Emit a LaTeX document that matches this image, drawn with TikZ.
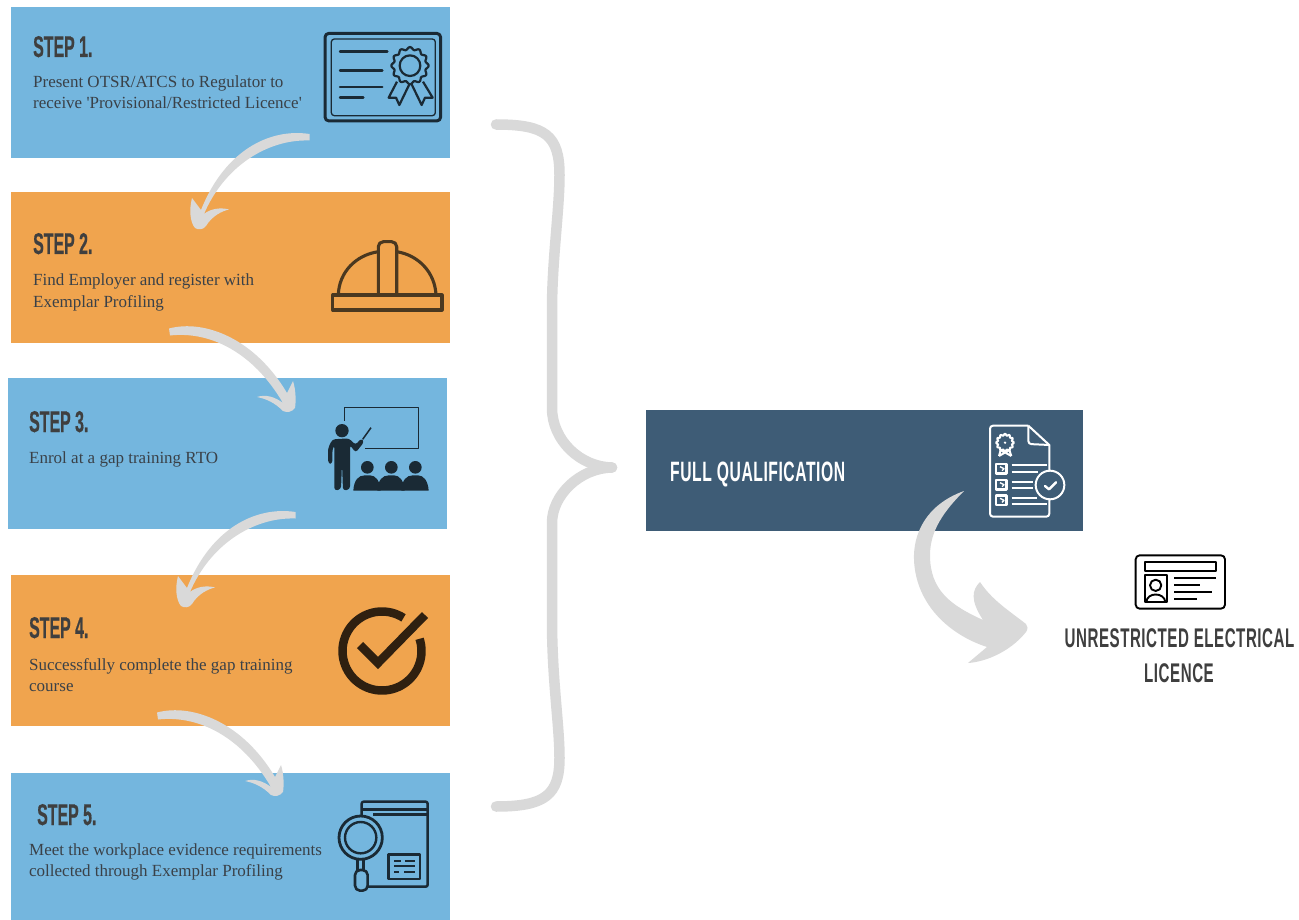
\documentclass[tikz,border=0pt]{standalone}
\usepackage{fontspec}
\setmainfont{Liberation Serif}
\newfontfamily\quotef{Liberation Serif}
\newfontfamily\headf[FakeStretch=0.53,FakeBold=0.5]{Liberation Sans Bold}
\newfontfamily\labelf[FakeStretch=0.56,LetterSpace=2]{Liberation Sans Bold}
\definecolor{boxblue}{HTML}{74B6DE}
\definecolor{boxorange}{HTML}{F0A44E}
\definecolor{boxnavy}{HTML}{3E5C76}
\definecolor{sweep}{HTML}{D9D9D9}
\definecolor{headink}{HTML}{3F3F3F}
\definecolor{bodyink}{HTML}{3A4148}
\definecolor{iconblue}{HTML}{1A2A35}
\definecolor{iconbrown}{HTML}{4A3820}
\definecolor{icondark}{HTML}{2F2010}
\tikzset{
  stepbox/.style={anchor=north west,inner sep=0pt,outer sep=0pt,minimum width=439pt,minimum height=151pt},
  title/.style={anchor=base west,inner sep=0pt,text=headink,font=\headf\fontsize{30}{30}\selectfont},
  body/.style={anchor=base west,inner sep=0pt,text=bodyink,font=\fontsize{17}{21}\selectfont},
  sweepleft/.pic={\fill[sweep] (309.5,134) .. controls (270,128) and (225,150) .. (201,210)
     -- (192,198) .. controls (189,210) and (190,222) .. (195,228) .. controls (198,230) and (203,230) .. (206,226)
     .. controls (212,216) and (222,211) .. (229,209.5) .. controls (220,207) and (210,209) .. (204,214)
     .. controls (224,167) and (267,139) .. (309.5,140.5) -- cycle;},
  sweepright/.pic={\fill[sweep] (169,328.5) .. controls (205,319) and (255,339) .. (287,393)
     -- (293,381) .. controls (296,390) and (296,402) .. (295,408) .. controls (292,412) and (287,413) .. (283,411)
     .. controls (275,403) and (267,399) .. (257,397) .. controls (266,394) and (275,397) .. (283,403)
     .. controls (253,352) and (210,331) .. (170,335.5) -- cycle;},
}
\begin{document}
\begin{tikzpicture}[x=1pt,y=-1pt,line join=round]
\useasboundingbox (0,0) rectangle (1299,920);
\fill[white] (0,0) rectangle (1299,920);
% boxes
\node[stepbox,fill=boxblue] (s1) at (11,7) {};
\node[stepbox,fill=boxorange] (s2) at (11,192) {};
\node[stepbox,fill=boxblue] (s3) at (8,377.5) {};
\node[stepbox,fill=boxorange] (s4) at (11,575) {};
\node[stepbox,fill=boxblue,minimum height=147pt] (s5) at (11,773) {};
\node[stepbox,fill=boxnavy,minimum width=437pt,minimum height=121pt] (full) at (646,410) {};
% texts
\node[title] (t1) at (33,57) {STEP 1.};
\node[body] (b1a) at (33,88) {Present OTSR/ATCS to Regulator to};
\node[body] (b1b) at (33,109) {receive {\quotef'}Provisional/Restricted Licence{\quotef'}};
\node[title] (t2) at (33,254) {STEP 2.};
\node[body] (b2a) at (33,286) {Find Employer and register with};
\node[body] (b2b) at (33,307) {Exemplar Profiling};
\node[title] (t3) at (29,432) {STEP 3.};
\node[body] (b3a) at (29,463) {Enrol at a gap training RTO};
\node[title] (t4) at (29,638) {STEP 4.};
\node[body] (b4a) at (29,670) {Successfully complete the gap training};
\node[body] (b4b) at (29,691) {course};
\node[title] (t5) at (37,825) {STEP 5.};
\node[body] (b5a) at (29,855) {Meet the workplace evidence requirements};
\node[body] (b5b) at (29,876) {collected through Exemplar Profiling};
\node[title,text=white,font=\labelf\fontsize{28}{28}\selectfont] (tf) at (670,481) {FULL QUALIFICATION};
\node[title,anchor=base,font=\labelf\fontsize{27}{27}\selectfont] (l1) at (1179.5,647) {UNRESTRICTED ELECTRICAL};
\node[title,anchor=base,font=\labelf\fontsize{27}{27}\selectfont] (l2) at (1179,682) {LICENCE};
% step connectors
\pic at (0,0) {sweepleft};
\pic at (0,0) {sweepright};
\pic at (-14,378) {sweepleft};
\pic at (-12,384) {sweepright};
% brace
\draw[sweep,line width=10.5pt,line cap=round] (496,124.5) .. controls (545,124.5) and (559.5,135) .. (559.5,175)
  .. controls (559.5,210) and (552,260) .. (552,310) -- (552,408) .. controls (552,440) and (580,467) .. (612,467.5);
\draw[sweep,line width=10.5pt,line cap=round] (612,467.5) .. controls (580,468) and (552,495) .. (552,523)
  -- (552,620) .. controls (552,680) and (559.5,725) .. (559.5,758) .. controls (559.5,795) and (545,806.5) .. (496,806.5);
% big arrow
\fill[sweep] (964,491) .. controls (925,505) and (913,535) .. (914,560) .. controls (916,605) and (950,635) .. (987,647)
  -- (968,663) .. controls (985,662) and (1010,652) .. (1026,632) .. controls (1028,629) and (1028,626) .. (1026,624)
  .. controls (1008,610) and (992,600) .. (980,582) .. controls (972,590) and (970,600) .. (983,620)
  .. controls (950,605) and (930,590) .. (930,555) .. controls (930,530) and (945,510) .. (964,491) -- cycle;
% certificate icon
\begin{scope}[shift={(320,25)},scale=1/3,draw=iconblue]
  \draw[line width=3pt,rounded corners=4pt] (15,25) rectangle (362,288);
  \draw[line width=1.3pt,rounded corners=3pt] (34,42) rectangle (346,272);
  \draw[line width=2.4pt,line cap=round] (60,80) -- (202,80) (60,137) -- (187,137) (60,186) -- (187,186) (60,218) -- (130,218);
  \draw[line width=2.2pt,shift={(270,122)}] plot[domain=0:360,samples=97,smooth] ({(52+4*cos(12*\x))*cos(\x)},{(52+4*cos(12*\x))*sin(\x)}) -- cycle;
  \draw[line width=2.2pt] (270,122) circle[radius=31];
  \draw[line width=2.2pt] (231,170) -- (206,218) -- (228,218) -- (238,240) -- (268,178);
  \draw[line width=2.2pt] (309,170) -- (338,218) -- (315,218) -- (305,240) -- (275,178);
\end{scope}
% hard hat icon
\begin{scope}[draw=iconbrown,line width=3.1pt]
  \draw (332.7,295) rectangle (442,310);
  \draw (338.3,295) .. controls (339,272) and (356,255) .. (378.3,251.7);
  \draw (436,295) .. controls (435,272) and (418,255) .. (396.7,251.7);
  \draw[rounded corners=5pt] (378.3,295) -- (378.3,241.7) -- (396.7,241.7) -- (396.7,295);
\end{scope}
% teacher icon
\begin{scope}[shift={(325,400)},scale=1/3]
  \draw[iconblue,line width=1.5pt] (58,62) -- (58,22) -- (280,22) -- (280,145) -- (120,145);
  \fill[iconblue] (51,92) circle[radius=20];
  \fill[iconblue,rounded corners=3pt] (9,190) -- (9,145) -- (22,118) -- (72,115) -- (92,135) -- (108,115) -- (118,125) -- (92,158) -- (75,135) -- (75,268) -- (54,272) -- (51,190) -- (48,268) -- (28,272) -- (28,135) -- (22,150) -- (22,192) -- cycle;
  \draw[iconblue,line width=1.5pt] (113,118) -- (138,83);
  \foreach \dx in {0,72,144}{
    \fill[iconblue] (127+\dx,202) circle[radius=19];
    \fill[iconblue] (85+\dx,272) .. controls (87+\dx,240) and (100+\dx,226) .. (120+\dx,226) -- (135+\dx,226) .. controls (150+\dx,226) and (165+\dx,240) .. (167+\dx,272) -- cycle;
  }
\end{scope}
% tick icon
\draw[icondark,line width=8.5pt] plot[domain=57:378,samples=70] ({382+39.5*cos(\x)},{651-39.5*sin(\x)});
\draw[icondark,line width=8.5pt,line join=miter] (360,645) -- (378,663) -- (425,615);
% evidence icon
\begin{scope}[shift={(330,795)},scale=1/3,draw=iconblue]
  \draw[line width=2.5pt,rounded corners=2pt] (95,62) -- (95,20) -- (293,20) -- (293,275) -- (110,275);
  \draw[line width=2.5pt] (95,43) -- (293,43) (130,58) -- (293,58);
  \draw[line width=2.8pt,fill=boxblue] (92,128) circle[radius=65];
  \draw[line width=2.4pt] (92,128) circle[radius=47];
  \draw[line width=2.4pt] (83,192) -- (83,225) (101,192) -- (101,225);
  \draw[line width=2.6pt,rounded corners=5pt,fill=boxblue] (75,225) rectangle (113,287);
  \draw[line width=2.8pt] (175,178) rectangle (270,252);
  \draw[line width=2.2pt] (192,197) -- (212,197) (225,197) -- (255,197) (192,214) -- (255,214) (192,232) -- (207,232) (222,232) -- (255,232);
\end{scope}
% document icon
\begin{scope}[shift={(980,420)},scale=1/3,draw=white,line width=2pt]
  \draw[rounded corners=3pt] (145,17) -- (30,17) -- (30,290) -- (208,290) -- (208,235);
  \draw (208,155) -- (208,75) -- (145,17);
  \draw[rounded corners=3pt] (145,17) -- (145,72) -- (208,75);
  \draw[shift={(75,68)}] plot[domain=0:360,samples=97,smooth] ({(24+2.5*cos(12*\x))*cos(\x)},{(24+2.5*cos(12*\x))*sin(\x)}) -- cycle;
  \fill[white] (75,68) circle[radius=4];
  \draw (62,90) -- (57,108) (88,90) -- (94,108) (62,90) -- (94,108) (88,90) -- (57,108);
  \draw[line width=2.8pt] (48,132) rectangle (80,160) (48,180) rectangle (80,208) (48,227) rectangle (80,255);
  \draw[line width=1.3pt] (60,140) -- (72,146) -- (66,152) (60,188) -- (72,194) -- (66,200) (60,235) -- (72,241) -- (66,247);
  \draw (95,135) -- (200,135) (95,155) -- (175,155) (95,187) -- (160,187) (95,205) -- (160,205) (95,235) -- (170,235) (95,253) -- (200,253);
  \draw (210,195) circle[radius=43];
  \draw[line width=2.4pt,line cap=round] (195,198) -- (207,208) -- (228,187);
\end{scope}
% licence card icon
\begin{scope}[shift={(1125,548)},scale=1/3,draw=black,line width=1.9pt]
  \draw[rounded corners=4pt] (32,22) rectangle (300,182);
  \draw (60,43) rectangle (272,68);
  \draw (60,82) rectangle (125,163);
  \draw (92,112) circle[radius=17];
  \draw (64,162) .. controls (66,132) and (118,132) .. (121,162);
  \draw[line width=1.6pt] (147,90) -- (272,90) (147,111) -- (225,111) (147,132) -- (260,132) (147,153) -- (217,153);
\end{scope}
\end{tikzpicture}
\end{document}
